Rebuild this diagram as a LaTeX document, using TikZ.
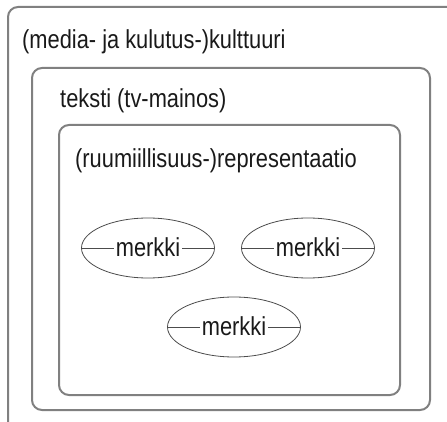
\documentclass[tikz,border=0pt]{standalone}
\usepackage{fontspec}
\setmainfont{Liberation Sans}[FakeStretch=0.84]
\usetikzlibrary{shapes.geometric}
\begin{document}
\begin{tikzpicture}[x=1pt,y=-1pt,
  boxline/.style={draw=black!50, line width=2pt, rounded corners=10pt},
  lbl/.style={font=\fontsize{26}{30}\selectfont, anchor=base west, inner sep=0pt, text=black!90},
  sign/.style={ellipse, draw=black!70, line width=0.8pt, minimum width=133pt, minimum height=60pt, inner sep=0pt},
  signtxt/.style={font=\fontsize{26}{30}\selectfont, inner sep=2pt, text=black!90},
  signline/.style={draw=black!70, line width=0.8pt}]
\useasboundingbox (0,0) rectangle (447,422);
\clip (0,0) rectangle (447,422);
% boxes
\draw[boxline] (8,7) rectangle (470,440);
\draw[boxline] (32,68) rectangle (430,410);
\draw[boxline] (59,125) rectangle (400,395);
% labels
\node[lbl] (kult) at (22,49) {(media- ja kulutus-)kulttuuri};
\node[lbl] (teks) at (60,108) {teksti (tv-mainos)};
\node[lbl] (repr) at (75,168) {(ruumiillisuus-)representaatio};
% signs
\node[sign] (e1) at (148,248) {};
\node[sign] (e2) at (308,248) {};
\node[sign] (e3) at (234,327) {};
\node[signtxt] (m1) at (148,247) {merkki};
\node[signtxt] (m2) at (308,247) {merkki};
\node[signtxt] (m3) at (234,326) {merkki};
\foreach \i in {1,2,3}{
  \draw[signline] (e\i.west) -- (m\i.west |- e\i.west);
  \draw[signline] (m\i.east |- e\i.east) -- (e\i.east);
}
\end{tikzpicture}
\end{document}
